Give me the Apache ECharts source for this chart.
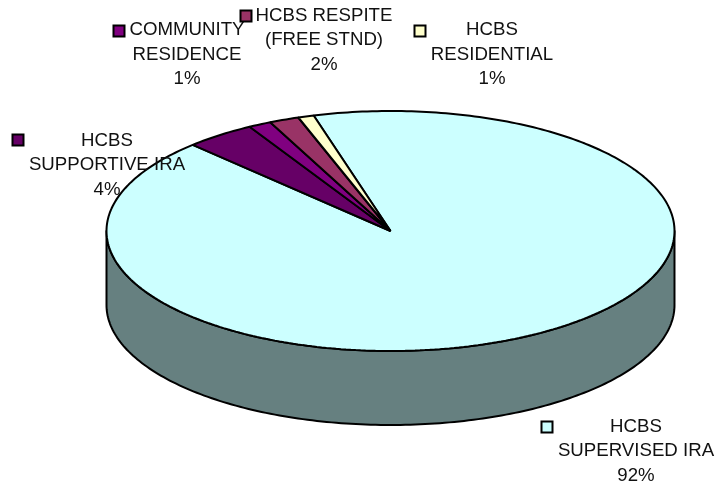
<!DOCTYPE html>
<html>
<head>
<meta charset="utf-8">
<script src="https://cdn.jsdelivr.net/npm/echarts@6/dist/echarts.min.js"></script>
<style>
  html, body { margin: 0; padding: 0; background: #fff; }
  #chart { width: 717px; height: 486px; }
</style>
</head>
<body>
<div id="chart"></div>
<script>
// values (share of the whole, clockwise)
const names = ['HCBS\nSUPERVISED IRA', 'HCBS\nSUPPORTIVE IRA', 'COMMUNITY\nRESIDENCE', 'HCBS RESPITE\n(FREE STND)', 'HCBS\nRESIDENTIAL']
const values = [92.1, 4.0, 1.3, 1.7, 0.9]
const percentLabels = ['92%', '4%', '1%', '2%', '1%']

const topColors = ['#CCFFFF', '#660066', '#800080', '#993366', '#FFFFCC']
const sideColors = ['#668080', '#330033', '#400040', '#4D1A33', '#808066']

// pie geometry
const cx = 390.5, cy = 231, rx = 284, ry = 120, depth = 74
const firstAngle = 105.7

// label text centre + key box, one per slice
const labelX = [636, 107, 187, 324, 492]
const labelY = [414.5, 128.5, 18, 3.5, 18]
const keyX = [541, 12, 113, 240, 414]
const keyY = [421, 134, 25, 10, 25]

const total = values.reduce((a, b) => a + b, 0)

function arc (from, to, dy) {
  const pts = []
  const n = Math.max(2, Math.ceil(Math.abs(to - from)))
  for (let i = 0; i <= n; i++) {
    const a = (from + (to - from) * i / n) * Math.PI / 180
    pts.push([cx + rx * Math.cos(a), cy + dy - ry * Math.sin(a)])
  }
  return pts
}

function renderItem (params, api) {
  const i = params.dataIndex
  let a0 = firstAngle
  for (let k = 0; k < i; k++) a0 -= values[k] / total * 360
  const a1 = a0 - api.value(1) / total * 360
  const children = []

  // side wall, only the front half shows
  const f0 = Math.min(a0, 0), f1 = Math.max(a1, -180)
  if (f0 > f1) {
    children.push({
      type: 'polygon',
      z2: 1,
      shape: { points: arc(f0, f1, 0).concat(arc(f1, f0, depth)) },
      style: { fill: sideColors[i], stroke: '#000', lineWidth: 2, lineJoin: 'round' }
    })
  }
  children.push({
    type: 'polygon',
    z2: 2 + i,
    shape: { points: [[cx, cy]].concat(arc(a0, a1, 0)) },
    style: { fill: topColors[i], stroke: '#000', lineWidth: 2, lineJoin: 'bevel' }
  })
  children.push({
    type: 'rect',
    z2: 20,
    shape: { x: keyX[i] + 0.5, y: keyY[i] + 0.5, width: 11, height: 11 },
    style: { fill: topColors[i], stroke: '#000', lineWidth: 2 }
  })
  children.push({
    type: 'text',
    z2: 20,
    style: {
      text: names[i] + '\n' + percentLabels[i],
      x: labelX[i],
      y: labelY[i],
      align: 'center',
      verticalAlign: 'top',
      fontFamily: 'Liberation Sans',
      fontSize: 18.67,
      lineHeight: 24.5,
      fill: '#111'
    }
  })
  return { type: 'group', children: children }
}

const chart = echarts.init(document.getElementById('chart'), null, { renderer: 'canvas' })
chart.setOption({
  backgroundColor: '#fff',
  animation: false,
  series: [{
    type: 'custom',
    coordinateSystem: 'none',
    renderItem: renderItem,
    data: values.map((v, i) => [i, v]),
    silent: true
  }]
})
</script>
</body>
</html>
